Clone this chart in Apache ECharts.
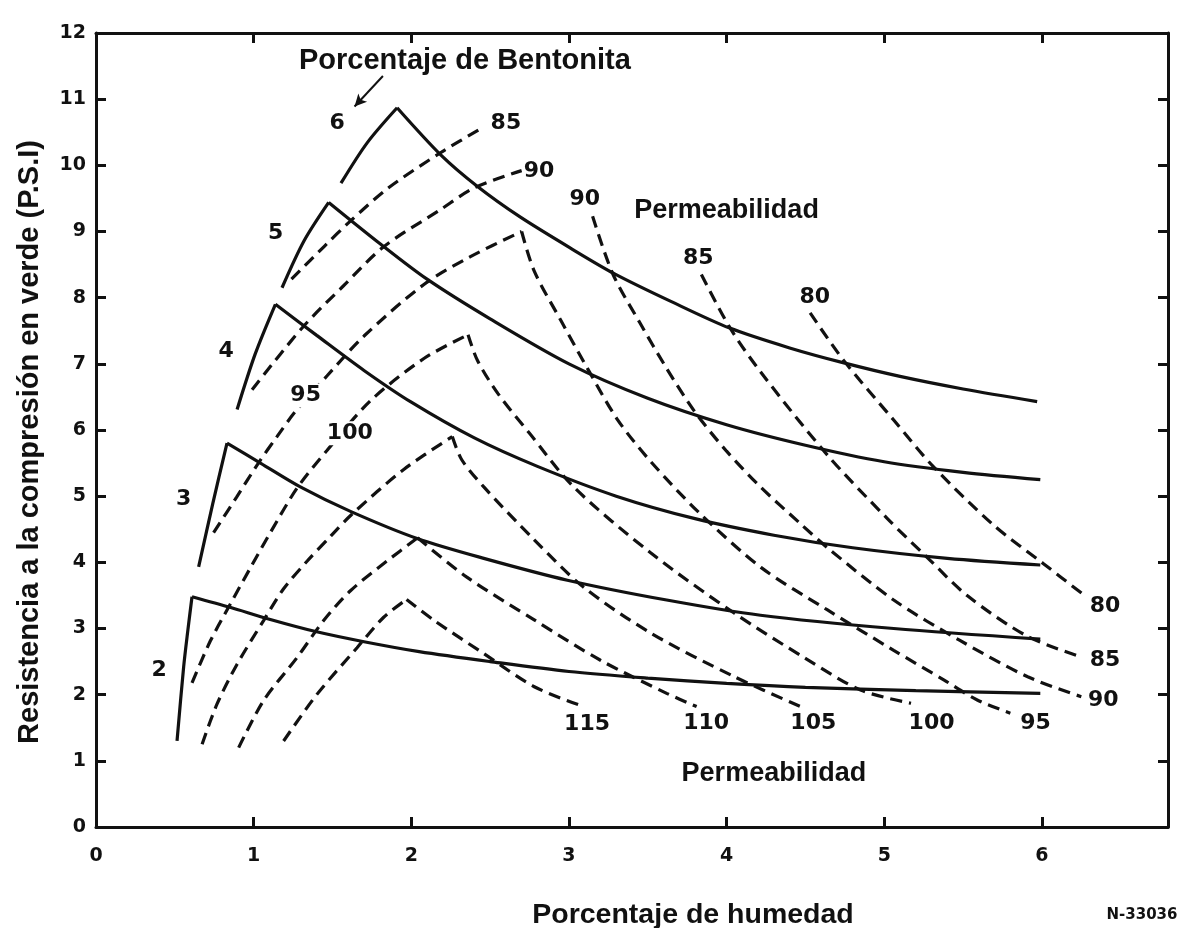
<!DOCTYPE html>
<html>
<head>
<meta charset="utf-8">
<script src="https://cdn.jsdelivr.net/npm/echarts@6/dist/echarts.min.js"></script>
<style>
  html, body { margin: 0; padding: 0; background: #fff; }
  #chart { width: 1182px; height: 928px; }
</style>
</head>
<body>
<div id="chart"></div>
<script>
// Green compressive strength (P.S.I) against moisture (%), one solid curve per bentonite %
const bentonite2 = [[0.514,1.30],[0.556,2.42],[0.583,2.98],[0.609,3.48],[0.85,3.32],[1.1,3.14],[1.4,2.95],[1.7,2.80],[2.05,2.65],[2.5,2.50],[3.0,2.35],[3.5,2.25],[4.0,2.17],[4.5,2.11],[5.2,2.06],[5.99,2.02]];
const bentonite3 = [[0.651,3.93],[0.74,4.88],[0.831,5.80],[1.043,5.50],[1.296,5.14],[1.614,4.77],[2.037,4.36],[2.46,4.06],[2.99,3.73],[3.62,3.43],[4.215,3.20],[5.06,3.00],[5.99,2.84]];
const bentonite4 = [[0.895,6.31],[1.01,7.15],[1.138,7.90],[1.4,7.43],[1.7,6.90],[2.0,6.42],[2.4,5.88],[2.8,5.45],[3.3,5.00],[3.8,4.66],[4.3,4.41],[4.8,4.22],[5.4,4.06],[5.99,3.96]];
const bentonite5 = [[1.18,8.15],[1.32,8.86],[1.476,9.44],[1.8,8.82],[2.1,8.28],[2.5,7.68],[3.0,7.00],[3.5,6.48],[4.0,6.08],[4.5,5.77],[5.0,5.52],[5.5,5.36],[5.99,5.25]];
const bentonite6 = [[1.554,9.73],[1.72,10.34],[1.91,10.87],[2.19,10.15],[2.42,9.68],[2.69,9.22],[3.03,8.72],[3.29,8.36],[3.65,7.94],[4.02,7.54],[4.40,7.24],[4.75,7.01],[5.10,6.81],[5.50,6.62],[5.97,6.43]];

// Permeability lines (dashed)
const perm80 = [[4.53,7.77],[4.74,7.06],[5.06,6.15],[5.31,5.45],[5.695,4.56],[6.01,3.98],[6.27,3.50]];
const perm85Low = [[1.24,8.28],[1.45,8.78],[1.61,9.15],[1.85,9.65],[2.185,10.19],[2.46,10.58]];
const perm85High = [[3.84,8.35],[4.02,7.55],[4.215,6.88],[4.64,5.62],[5.02,4.66],[5.27,4.08],[5.53,3.49],[5.91,2.88],[6.25,2.57]];
const perm90Low = [[0.99,6.61],[1.31,7.55],[1.57,8.18],[1.825,8.77],[2.185,9.33],[2.40,9.66],[2.70,9.92]];
const perm90High = [[3.15,9.23],[3.28,8.35],[3.45,7.62],[3.62,6.93],[3.80,6.27],[4.0,5.68],[4.215,5.14],[4.47,4.58],[4.64,4.22],[5.06,3.43],[5.48,2.82],[5.91,2.27],[6.25,1.97]];
const perm95 = [[0.746,4.45],[0.893,4.99],[1.03,5.50],[1.148,5.90],[1.265,6.28],[1.466,6.82],[1.70,7.42],[2.08,8.20],[2.375,8.62],[2.70,9.00],[2.78,8.40],[2.95,7.65],[3.12,6.92],[3.31,6.15],[3.52,5.52],[3.83,4.74],[4.22,3.92],[4.64,3.28],[5.06,2.67],[5.38,2.22],[5.59,1.92],[5.80,1.72]];
const perm100 = [[0.609,2.18],[0.725,2.81],[0.852,3.37],[0.98,3.92],[1.106,4.45],[1.275,5.12],[1.465,5.69],[1.74,6.44],[2.08,7.08],[2.36,7.44],[2.42,7.05],[2.55,6.55],[2.75,5.95],[3.03,5.14],[3.52,4.14],[4.05,3.23],[4.5,2.55],[4.85,2.07],[5.17,1.87]];
const perm105 = [[0.673,1.25],[0.768,1.86],[0.895,2.46],[1.063,3.12],[1.19,3.60],[1.34,4.02],[1.49,4.40],[1.62,4.72],[1.95,5.40],[2.26,5.90],[2.32,5.55],[2.46,5.14],[2.78,4.34],[3.09,3.63],[3.52,2.93],[4.05,2.27],[4.47,1.82]];
const perm110 = [[0.905,1.20],[1.063,1.91],[1.275,2.56],[1.444,3.12],[1.614,3.57],[1.846,4.02],[2.04,4.37],[2.35,3.78],[2.78,3.13],[3.20,2.52],[3.62,2.02],[3.81,1.82]];
const perm115 = [[1.19,1.30],[1.40,2.00],[1.656,2.71],[1.825,3.17],[1.97,3.44],[2.14,3.13],[2.46,2.62],[2.78,2.12],[3.07,1.84]];

// Text annotations: [text, x, y]
const bentoniteTags = [['2',0.40,2.37],['3',0.556,4.96],['4',0.826,7.19],['5',1.14,8.98],['6',1.53,10.64]];
const permeabilityTags = [['85',2.60,10.64],['90',2.81,9.91],['90',3.10,9.48],['85',3.82,8.60],['80',4.56,8.00],
  ['80',6.40,3.33],['85',6.40,2.52],['90',6.39,1.92],['95',5.96,1.56],['100',5.30,1.56],['105',4.55,1.56],['110',3.87,1.56],['115',3.115,1.55]];
const inlineTags = [['95',1.33,6.52],['100',1.61,5.95]];
const headingTags = [['Porcentaje de Bentonita',2.34,11.57]];
const captionTags = [['Permeabilidad',4.00,9.32],['Permeabilidad',4.30,0.81]];
const pointerArrow = [[1.82,11.35],[1.64,10.89]];

const xTicks = { min: 0, max: 6.8, step: 1 };
const yTicks = { min: 0, max: 12, step: 1 };

const INK = '#111';
const NUM_FONT = '"DejaVu Sans", sans-serif';
const TXT_FONT = '"Liberation Sans", Arial, sans-serif';

// split a curve at its highest point so each branch is smoothed on its own and the apex stays sharp
function branches(pts) {
  let k = 0;
  pts.forEach((p, i) => { if (p[1] > pts[k][1]) k = i; });
  const out = [];
  if (k > 0) out.push(pts.slice(0, k + 1));
  if (k < pts.length - 1) out.push(pts.slice(k));
  return out;
}

function curveSeries(pts, dashed) {
  return branches(pts).map(b => ({
    type: 'line',
    data: b,
    showSymbol: false,
    symbol: 'none',
    smooth: 0.3,
    silent: true,
    animation: false,
    clip: false,
    lineStyle: { color: INK, width: 3.2, type: dashed ? [12, 7] : 'solid', cap: 'butt' },
    z: 3
  }));
}

function tagSeries(tags, style, extra) {
  return Object.assign({
    type: 'scatter',
    data: tags.map(t => ({ name: t[0], value: [t[1], t[2]] })),
    symbol: 'circle',
    symbolSize: 1,
    itemStyle: { color: 'rgba(0,0,0,0)', opacity: 1 },
    silent: true,
    animation: false,
    z: 10,
    label: Object.assign({ show: true, position: 'inside', formatter: '{b}', color: INK, fontWeight: 'bold', opacity: 1 }, style)
  }, extra || {});
}

const solidSets = [bentonite2, bentonite3, bentonite4, bentonite5, bentonite6];
const dashedSets = [perm80, perm85Low, perm85High, perm90Low, perm90High, perm95, perm100, perm105, perm110, perm115];

const series = [];
solidSets.forEach(s => series.push(...curveSeries(s, false)));
dashedSets.forEach(s => series.push(...curveSeries(s, true)));
series.push(tagSeries(bentoniteTags, { fontFamily: NUM_FONT, fontSize: 22 }));
series.push(tagSeries(permeabilityTags, { fontFamily: NUM_FONT, fontSize: 22 }));
series.push(tagSeries(inlineTags, { fontFamily: NUM_FONT, fontSize: 22, backgroundColor: '#fff', padding: [1, 2] }));
series.push(tagSeries(captionTags, { fontFamily: TXT_FONT, fontSize: 27 }));
series.push(tagSeries(headingTags, { fontFamily: TXT_FONT, fontSize: 29 }, {
  markLine: {
    silent: true,
    animation: false,
    symbol: ['none', 'arrow'],
    symbolSize: [9, 12],
    label: { show: false },
    lineStyle: { color: INK, width: 2, type: 'solid', curveness: 0.2, opacity: 1 },
    data: [[{ coord: pointerArrow[0] }, { coord: pointerArrow[1] }]]
  }
}));

const axisLine = { show: true, onZero: false, lineStyle: { color: INK, width: 3 } };
const innerTick = { show: true, inside: true, length: 10, lineStyle: { color: INK, width: 3 } };

const option = {
  backgroundColor: '#fff',
  animation: false,
  grid: { left: 96, right: 14, top: 33, bottom: 101, containLabel: false },
  xAxis: [
    {
      type: 'value', position: 'bottom', min: xTicks.min, max: xTicks.max, interval: xTicks.step,
      axisLine: axisLine, axisTick: innerTick, splitLine: { show: false },
      axisLabel: { color: INK, fontFamily: NUM_FONT, fontWeight: 'bold', fontSize: 19, margin: 20, showMaxLabel: false }
    },
    {
      type: 'value', position: 'top', min: xTicks.min, max: xTicks.max, interval: xTicks.step,
      axisLine: axisLine, axisTick: innerTick, splitLine: { show: false }, axisLabel: { show: false }
    }
  ],
  yAxis: [
    {
      type: 'value', position: 'left', min: yTicks.min, max: yTicks.max, interval: yTicks.step,
      axisLine: axisLine, axisTick: innerTick, splitLine: { show: false },
      axisLabel: { color: INK, fontFamily: NUM_FONT, fontWeight: 'bold', fontSize: 19, margin: 10 }
    },
    {
      type: 'value', position: 'right', min: yTicks.min, max: yTicks.max, interval: yTicks.step,
      axisLine: axisLine, axisTick: innerTick, splitLine: { show: false }, axisLabel: { show: false }
    }
  ],
  graphic: [
    {
      type: 'text', x: 30, y: 442, rotation: Math.PI / 2, silent: true,
      style: { text: 'Resistencia a la compresión en verde (P.S.I)', fill: INK, font: 'bold 29px "Liberation Sans", Arial, sans-serif', align: 'center', verticalAlign: 'middle' }
    },
    {
      type: 'text', x: 693, y: 915, silent: true,
      style: { text: 'Porcentaje de humedad', fill: INK, font: 'bold 28.5px "Liberation Sans", Arial, sans-serif', align: 'center', verticalAlign: 'middle' }
    },
    {
      type: 'text', x: 1142, y: 915, silent: true,
      style: { text: 'N-33036', fill: INK, font: 'bold 15px "DejaVu Sans", sans-serif', align: 'center', verticalAlign: 'middle' }
    }
  ],
  series: series
};

const chart = echarts.init(document.getElementById('chart'), null, { renderer: 'canvas' });
chart.setOption(option);
</script>
</body>
</html>
